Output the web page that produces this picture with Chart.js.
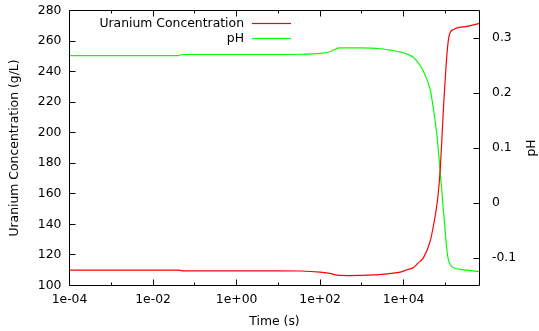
<!DOCTYPE html>
<html>
<head>
<meta charset="utf-8">
<script src="https://cdn.jsdelivr.net/npm/chart.js@4/dist/chart.umd.min.js"></script>
<style>
  html, body { margin: 0; padding: 0; background: #fff; }
  #c { display: block; }
</style>
</head>
<body>
<canvas id="c" width="539" height="331"></canvas>
<script>
// ---- data ----
const uraniumTime = [1e-4, 1e-3, 1e-2, 0.04, 0.05, 0.1, 1, 10, 33, 100, 170, 290, 500, 910, 2000, 2750, 5000, 8300, 1.2e4, 1.73e4, 2.2e4, 3.01e4, 4.36e4, 5.23e4, 6.07e4, 6.78e4, 7.57e4, 8.32e4, 9.09e4, 1.0e5, 1.1e5, 1.2e5, 1.32e5, 1.58e5, 1.91e5, 3.31e5, 6.55e5];
const uraniumConc = [110.1, 110.1, 110.1, 110.1, 109.6, 109.6, 109.6, 109.6, 109.5, 108.8, 107.9, 106.6, 106.5, 106.6, 106.9, 107.2, 107.9, 108.8, 110.3, 111.8, 114.6, 118.4, 129.4, 139.9, 150.4, 160.9, 177.3, 198.3, 218.7, 237.1, 252.9, 262.1, 266.0, 267.6, 268.6, 269.6, 271.6];

const phTime = [1e-4, 1e-3, 1e-2, 0.04, 0.05, 0.1, 1, 10, 33, 100, 170, 290, 910, 2750, 8300, 1.2e4, 1.7e4, 2.5e4, 3.3e4, 4.36e4, 4.79e4, 5.44e4, 6.31e4, 7.29e4, 8.32e4, 1.0e5, 1.1e5, 1.18e5, 1.32e5, 1.73e5, 2.29e5, 6.55e5];
const phValue = [0.268, 0.268, 0.268, 0.268, 0.270, 0.270, 0.270, 0.270, 0.2705, 0.272, 0.275, 0.282, 0.282, 0.2805, 0.2745, 0.271, 0.265, 0.250, 0.232, 0.205, 0.187, 0.1595, 0.1202, 0.0685, 0.0158, -0.0562, -0.0896, -0.1033, -0.1124, -0.1192, -0.1206, -0.1246];

const seriesLabels = ['Uranium Concentration', 'pH'];
const seriesColors = ['rgb(255,0,0)', 'rgb(0,255,0)'];

const xMajorTicks = [1e-4, 1e-2, 1e0, 1e2, 1e4];
const xMajorLabels = ['1e-04', '1e-02', '1e+00', '1e+02', '1e+04'];
const xMinorTicks = [1e-3, 1e-1, 1e1, 1e3, 1e5];
const yTicks = [100, 120, 140, 160, 180, 200, 220, 240, 260, 280];
const phTicks = [-0.1, 0, 0.1, 0.2, 0.3];
const phTickLabels = ['-0.1', '0', '0.1', '0.2', '0.3'];

const FONT = { family: 'DejaVu Sans', size: 12.4 };

const gnuplotFrame = {
  id: 'gnuplotFrame',
  afterDatasetsDraw(chart) {
    const { ctx, chartArea: a, scales } = chart;
    const L = a.left, R = a.right, T = a.top, B = a.bottom;
    const snap = p => Math.floor(p) + 0.5;
    ctx.save();
    ctx.strokeStyle = '#000';
    ctx.lineWidth = 1;
    ctx.beginPath();
    ctx.rect(L, T, R - L, B - T);
    const major = 6, minor = 3;
    const sx = v => snap(scales.x.getPixelForValue(v));
    xMajorTicks.forEach(v => { const p = sx(v); ctx.moveTo(p, B); ctx.lineTo(p, B - major); ctx.moveTo(p, T); ctx.lineTo(p, T + major); });
    xMinorTicks.forEach(v => { const p = sx(v); if (p > R) return; ctx.moveTo(p, B); ctx.lineTo(p, B - minor); ctx.moveTo(p, T); ctx.lineTo(p, T + minor); });
    yTicks.forEach(v => { const p = snap(scales.y.getPixelForValue(v)); ctx.moveTo(L, p); ctx.lineTo(L + major, p); });
    phTicks.forEach(v => { const p = snap(scales.y2.getPixelForValue(v)); ctx.moveTo(R, p); ctx.lineTo(R - major, p); });
    ctx.stroke();

    // legend (inside, top)
    ctx.font = FONT.size + 'px "' + FONT.family + '"';
    ctx.textAlign = 'right';
    ctx.textBaseline = 'middle';
    chart.data.datasets.forEach((ds, i) => {
      const yy = 23.5 + i * 15;
      ctx.fillStyle = '#000';
      ctx.fillText(ds.label, 244, yy);
      ctx.fillStyle = seriesColors[i];
      ctx.fillRect(252, yy - 0.6, 39, 1.2);
    });

    // right axis title, reading bottom-to-top
    ctx.save();
    ctx.translate(532, (T + B) / 2);
    ctx.rotate(-Math.PI / 2);
    ctx.textAlign = 'center';
    ctx.textBaseline = 'middle';
    ctx.fillStyle = '#000';
    ctx.fillText('pH', 0, 0);
    ctx.restore();
    ctx.restore();
  }
};

const noPad = s => { s.paddingTop = 0; s.paddingBottom = 0; };

new Chart(document.getElementById('c'), {
  type: 'line',
  data: {
    datasets: [
      {
        label: seriesLabels[0],
        data: uraniumTime.map((t, i) => ({ x: t, y: uraniumConc[i] })),
        borderColor: seriesColors[0],
        borderWidth: 1.2,
        pointRadius: 0,
        cubicInterpolationMode: 'monotone',
        yAxisID: 'y'
      },
      {
        label: seriesLabels[1],
        data: phTime.map((t, i) => ({ x: t, y: phValue[i] })),
        borderColor: seriesColors[1],
        borderWidth: 1.2,
        pointRadius: 0,
        cubicInterpolationMode: 'monotone',
        yAxisID: 'y2'
      }
    ]
  },
  options: {
    responsive: false,
    animation: false,
    devicePixelRatio: 1,
    layout: { padding: { top: 10.5, left: 0, right: 0, bottom: 0 } },
    plugins: { legend: { display: false }, tooltip: { enabled: false } },
    scales: {
      x: {
        type: 'logarithmic',
        position: 'bottom',
        min: 1e-4,
        max: 6.55e5,
        grid: { display: false, drawTicks: false },
        border: { display: false },
        afterBuildTicks: s => { s.ticks = xMajorTicks.map(v => ({ value: v })); },
        afterFit: s => { s.height = 45.5; s.paddingLeft = 0; s.paddingRight = 0; },
        ticks: {
          autoSkip: false, maxRotation: 0, padding: 7, color: '#000', font: FONT,
          callback: (v) => { const i = xMajorTicks.indexOf(v); return i >= 0 ? xMajorLabels[i] : ''; }
        },
        title: { display: true, text: 'Time (s)', color: '#000', font: FONT, padding: { top: 0, bottom: 1.5 } }
      },
      y: {
        type: 'linear',
        position: 'left',
        min: 100,
        max: 280,
        grid: { display: false, drawTicks: false },
        border: { display: false },
        afterBuildTicks: s => { s.ticks = yTicks.map(v => ({ value: v })); },
        afterFit: s => { s.width = 69.5; noPad(s); },
        ticks: { padding: 8, color: '#000', font: FONT, callback: v => String(v) },
        title: { display: true, text: 'Uranium Concentration (g/L)', color: '#000', font: FONT, padding: { top: 7.5, bottom: 0 } }
      },
      y2: {
        type: 'linear',
        position: 'right',
        min: -0.15,
        max: 0.35,
        grid: { display: false, drawTicks: false },
        border: { display: false },
        afterBuildTicks: s => { s.ticks = phTicks.map(v => ({ value: v })); },
        afterFit: s => { s.width = 59.5; noPad(s); },
        ticks: {
          padding: 12.5, color: '#000', font: FONT,
          callback: (v) => { const i = phTicks.findIndex(p => Math.abs(p - v) < 1e-9); return i >= 0 ? phTickLabels[i] : ''; }
        }
      }
    }
  },
  plugins: [gnuplotFrame]
});
</script>
</body>
</html>
